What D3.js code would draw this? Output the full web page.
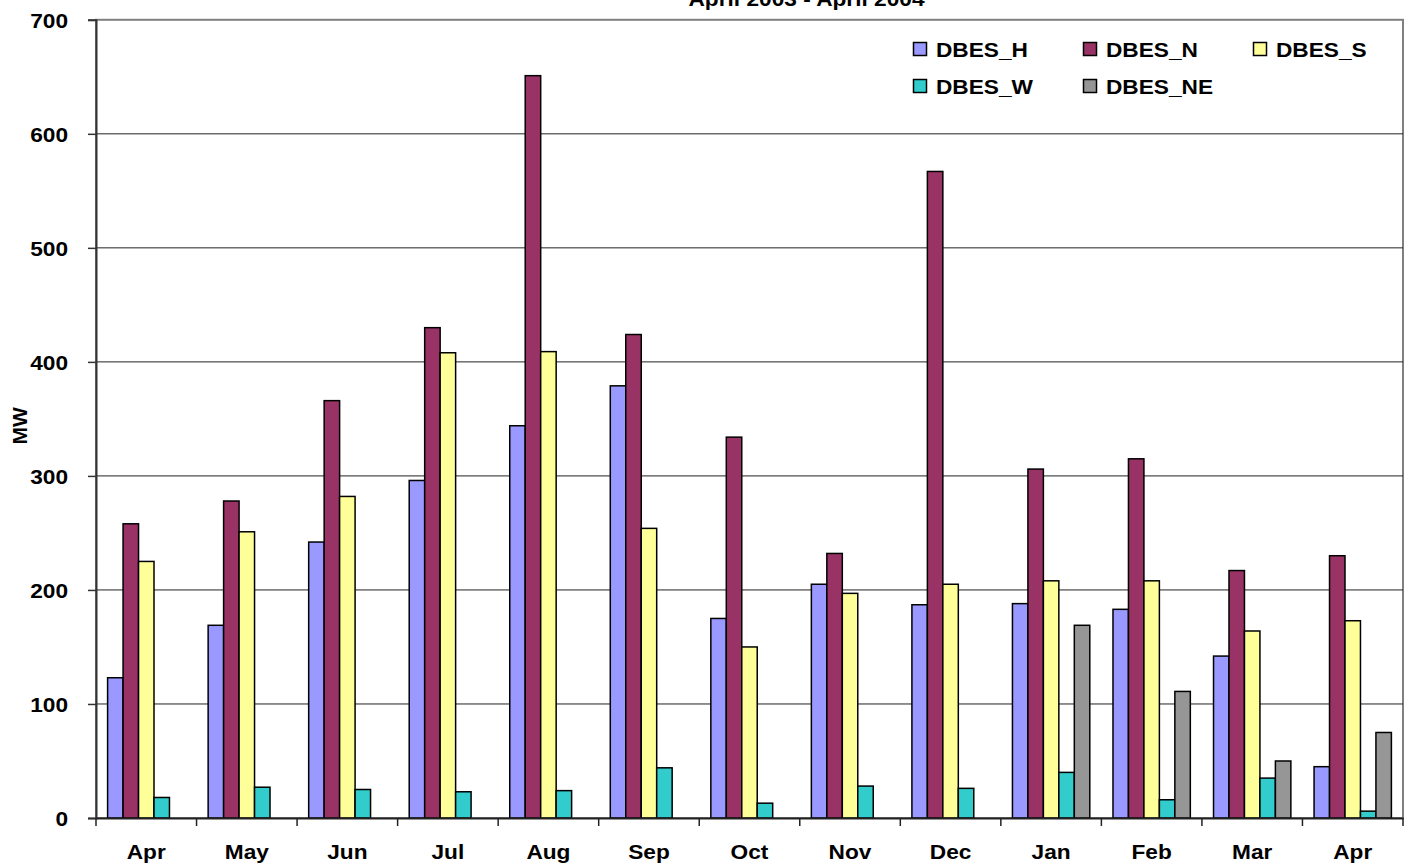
<!DOCTYPE html>
<html>
<head>
<meta charset="utf-8">
<script src="https://cdn.jsdelivr.net/npm/d3@7"></script>
<style>
  html, body { margin: 0; padding: 0; background: #fff; }
  svg { display: block; }
  text { font-family: "Liberation Sans", Arial, sans-serif; font-weight: bold; fill: #000; }
</style>
</head>
<body>
<svg id="chart" width="1413" height="867"></svg>
<script>
// ---- data ----
const months = ["Apr","May","Jun","Jul","Aug","Sep","Oct","Nov","Dec","Jan","Feb","Mar","Apr"];
const seriesNames = ["DBES_H","DBES_N","DBES_S","DBES_W","DBES_NE"];
const dbesH  = [123,169,242,296,344,379,175,205,187,188,183,142,45];
const dbesN  = [258,278,366,430,651,424,334,232,567,306,315,217,230];
const dbesS  = [225,251,282,408,409,254,150,197,205,208,208,164,173];
const dbesW  = [18,27,25,23,24,44,13,28,26,40,16,35,6];
const dbesNE = [null,null,null,null,null,null,null,null,null,169,111,50,75];
const yTicks = [0,100,200,300,400,500,600,700];
const titleText = "April 2003 - April 2004";
const yLabel = "MW";

const seriesValues = [dbesH, dbesN, dbesS, dbesW, dbesNE];
const colors = ["#9999FF","#993366","#FFFF99","#33CCCC","#969696"];

// ---- layout ----
const L = 96, R = 1403, T = 19.8, B = 818;
const FS = 21, SX = 1.08;

const svg = d3.select("#chart");

const x = d3.scaleBand().domain(d3.range(months.length)).range([L, R]).padding(0);
const xs = d3.scaleBand().domain(seriesNames).range([0, x.bandwidth()])
  .paddingInner(0).paddingOuter(0.75);
const y = d3.scaleLinear().domain([0, 700]).range([B, T]);

// plot border (gray)
svg.append("rect")
  .attr("x", L).attr("y", y(700)).attr("width", R - L).attr("height", B - y(700))
  .attr("fill", "#fff").attr("stroke", "#808080").attr("stroke-width", 2);

// gridlines
svg.append("g").selectAll("line")
  .data(yTicks.filter(d => d > 0 && d < 700))
  .join("line")
  .attr("x1", L).attr("x2", R)
  .attr("y1", d => y(d)).attr("y2", d => y(d))
  .attr("stroke", "#222").attr("stroke-width", 1);

// bars
const rows = [];
months.forEach((m, i) => {
  seriesNames.forEach((s, j) => {
    const v = seriesValues[j][i];
    if (v != null) rows.push({ i, s, j, v });
  });
});
svg.append("g").selectAll("rect")
  .data(rows)
  .join("rect")
  .attr("x", d => x(d.i) + xs(d.s))
  .attr("y", d => y(d.v))
  .attr("width", xs.bandwidth())
  .attr("height", d => y(0) - y(d.v))
  .attr("fill", d => colors[d.j])
  .attr("stroke", "#000")
  .attr("stroke-width", 1.5);

// y axis
const yAxis = svg.append("g")
  .attr("transform", `translate(${L},0)`)
  .call(d3.axisLeft(y).tickValues(yTicks).tickSize(8).tickPadding(20).tickFormat(d3.format("d")));
yAxis.select(".domain").attr("stroke", "#333").attr("stroke-width", 2);
yAxis.selectAll(".tick line").attr("stroke", "#333").attr("stroke-width", 1.5);
yAxis.selectAll(".tick text")
  .attr("font-size", FS).attr("font-family", null)
  .attr("x", null).attr("dy", "0.36em")
  .attr("transform", `translate(-28,0) scale(${SX},1)`)
  .attr("text-anchor", "end");

// x axis (labels at centers, ticks at boundaries)
const xAxis = svg.append("g")
  .attr("transform", `translate(0,${B})`)
  .call(d3.axisBottom(x).tickSizeInner(0).tickSizeOuter(0).tickPadding(26).tickFormat(i => months[i]));
xAxis.select(".domain").attr("stroke", "#222").attr("stroke-width", 2);
xAxis.selectAll(".tick text")
  .attr("font-size", FS).attr("font-family", null)
  .attr("transform", function() {
    const yy = d3.select(this).attr("y");
    return `translate(0,${yy}) scale(${SX},1)`;
  })
  .attr("y", 0);
const bounds = d3.range(months.length).map(i => x(i)).concat([R]);
xAxis.append("g").selectAll("line")
  .data(bounds)
  .join("line")
  .attr("x1", d => d).attr("x2", d => d)
  .attr("y1", 0).attr("y2", 8)
  .attr("stroke", "#222").attr("stroke-width", 1.5);

// y label
svg.append("text")
  .attr("transform", `translate(26.5,${(B + T) / 2 + 7}) rotate(-90)`)
  .attr("text-anchor", "middle")
  .attr("font-size", FS)
  .text(yLabel);

// title (partially clipped at top)
svg.append("text")
  .attr("transform", `translate(806.5,6) scale(${SX},1)`)
  .attr("text-anchor", "middle")
  .attr("font-size", FS)
  .text(titleText);

// legend
const legendPos = [
  { cx: 913.5, cy: 49 }, { cx: 1083.5, cy: 49 }, { cx: 1253.5, cy: 49 },
  { cx: 913.5, cy: 86 }, { cx: 1083.5, cy: 86 }
];
const lg = svg.append("g").selectAll("g")
  .data(seriesNames)
  .join("g")
  .attr("transform", (d, i) => `translate(${legendPos[i].cx},${legendPos[i].cy})`);
lg.append("rect")
  .attr("x", 0).attr("y", -6.5).attr("width", 13).attr("height", 13)
  .attr("fill", (d, i) => colors[i]).attr("stroke", "#000").attr("stroke-width", 1.5);
lg.append("text")
  .attr("transform", `translate(22.5,7.5) scale(${SX},1)`)
  .attr("font-size", FS)
  .text(d => d);
</script>
</body>
</html>
